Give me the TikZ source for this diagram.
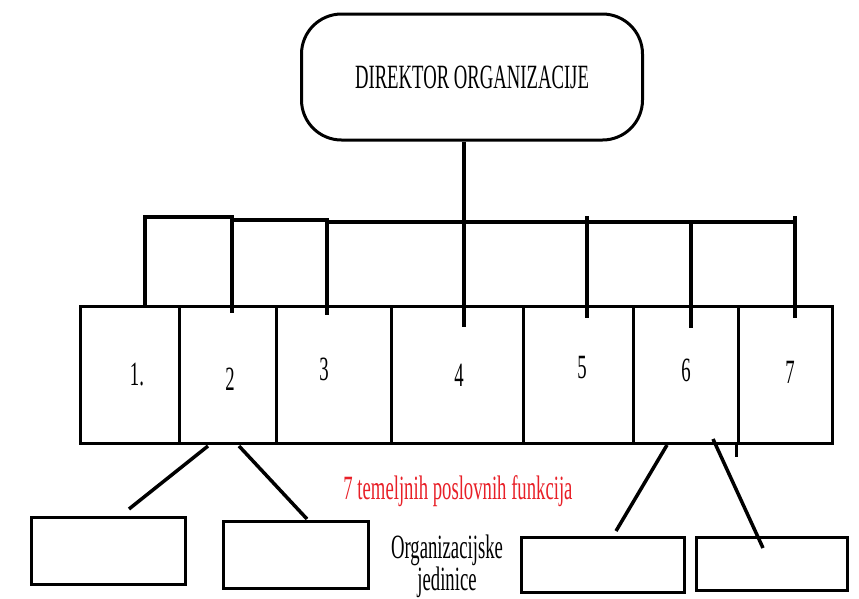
\documentclass[tikz,border=0pt]{standalone}
\usepackage{fontspec}
\setmainfont{Liberation Serif}
\newfontfamily\narrowfont[FakeStretch=0.55]{Liberation Serif}
\usetikzlibrary{positioning}
\definecolor{funcred}{RGB}{232,32,40}

\begin{document}
\begin{tikzpicture}[x=1pt, y=-1pt,
    txt/.style={font=\narrowfont\fontsize{34}{28}\selectfont},
    cell/.style={draw, line width=3pt, minimum height=137pt, inner sep=0pt},
    unit/.style={draw, line width=3pt, inner sep=0pt},
    link/.style={line width=3.5pt},
    bus/.style={line width=4.5pt, line join=miter}]
    \useasboundingbox (0,0) rectangle (859,598);

    % director
    \node[draw, rounded corners=40pt, line width=3pt, minimum width=341pt,
        minimum height=126pt, txt] (dir) at (472,77) {DIREKTOR ORGANIZACIJE};

    % the seven functions
    \node[cell, minimum width=99pt] (f1) at (129.5,374.5) {};
    \node[cell, minimum width=97pt] (f2) at (227.5,374.5) {};
    \node[cell, minimum width=115pt] (f3) at (333.5,374.5) {};
    \node[cell, minimum width=132pt] (f4) at (457,374.5) {};
    \node[cell, minimum width=110pt] (f5) at (578,374.5) {};
    \node[cell, minimum width=105pt] (f6) at (685.5,374.5) {};
    \node[cell, minimum width=94pt] (f7) at (785,374.5) {};
    \draw[line width=3pt] (f7.south west) -- ++(0,12);

    \node[txt] (n1) at (137,375) {1.};
    \node[txt] (n2) at (230,379) {2};
    \node[txt] (n3) at (324,369) {3};
    \node[txt] (n4) at (459,375) {4};
    \node[txt] (n5) at (582,368) {5};
    \node[txt] (n6) at (686,370) {6};
    \node[txt] (n7) at (790,372) {7};

    % bus
    \coordinate (b1) at (145,217);
    \coordinate (b2) at (232,217);
    \coordinate (b3) at (327,220);
    \coordinate (b4) at (464,222);
    \coordinate (b5) at (587,216);
    \coordinate (b6) at (691,222);
    \coordinate (b7) at (795,216);
    \coordinate (d1) at (145,306);
    \coordinate (d2) at (232,313);
    \coordinate (d3) at (327,315);
    \coordinate (d4) at (464,327);
    \coordinate (d5) at (587,318);
    \coordinate (d6) at (691,328);
    \coordinate (d7) at (795,318);

    \draw[bus] (d1) -- (b1) -- (b2) -- (232,220) -- (b3) -- (327,222) -- (797,222);
    \draw[link] (b2) -- (d2);
    \draw[link] (b3) -- (d3);
    \draw[link] (dir.south -| b4) -- (d4);
    \draw[link] (b5) -- (d5);
    \draw[link] (b6) -- (d6);
    \draw[link] (b7) -- (d7);

    % organizational units
    \node[unit, minimum width=154pt, minimum height=67pt] (u1) at (108,550.5) {};
    \node[unit, minimum width=145pt, minimum height=67pt] (u2) at (295.5,554.5) {};
    \node[unit, minimum width=163pt, minimum height=55pt] (u3) at (602.5,564.5) {};
    \node[unit, minimum width=151pt, minimum height=53pt] (u4) at (771.5,563.5) {};

    \coordinate (s1) at (208,446);
    \coordinate (s2) at (239,446);
    \coordinate (s3) at (667,445);
    \coordinate (s4) at (713,439);
    \coordinate (e1) at (129,509);
    \coordinate (e2) at (307,519);
    \coordinate (e3) at (616,531);
    \coordinate (e4) at (763,548);
    \draw[link] (s1) -- (e1);
    \draw[link] (s2) -- (e2);
    \draw[link] (s3) -- (e3);
    \draw[link] (s4) -- (e4);

    \node[txt, text=funcred] (funk) at (458,491) {7 temeljnih poslovnih funkcija};
    \node[txt, align=center] (jed) at (447,566) {Organizacijske\\jedinice};
\end{tikzpicture}
\end{document}
